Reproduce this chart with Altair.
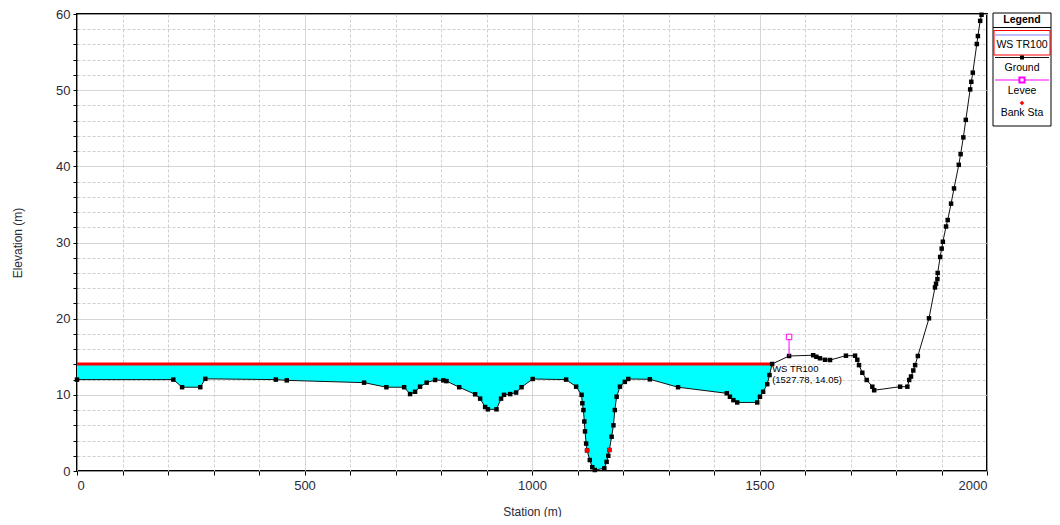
import altair as alt
import pandas as pd

# ---------------- data ----------------
station = [0, 211.7, 231, 271, 282, 437, 461, 631, 680, 719, 732, 743, 754, 768.5, 787, 805, 812,
           840, 875, 886, 897, 903, 922, 932, 938.5, 952, 965, 977, 1001.5, 1075, 1097, 1109,
           1110.6, 1113, 1115, 1116.5, 1119, 1121, 1127, 1132.5, 1138, 1159, 1164, 1167.7, 1170,
           1175, 1179, 1182, 1186, 1193.4, 1204, 1211.6, 1259, 1321, 1428, 1435, 1442.6, 1451,
           1495, 1501, 1508, 1517, 1522, 1527.78, 1565, 1618, 1625, 1633, 1644, 1655, 1690, 1710,
           1715, 1718.7, 1726, 1735.6, 1748, 1752, 1809, 1825, 1829, 1833, 1838, 1842, 1848,
           1872.5, 1885.7, 1888, 1891, 1891.6, 1897, 1900.4, 1903, 1910, 1913.6, 1921, 1927.5,
           1938, 1942, 1948, 1953.4, 1963, 1965.5, 1968.8, 1977.6, 1980, 1985, 1988]
elevation = [12.0, 12.0, 11.0, 11.0, 12.1, 12.0, 11.9, 11.6, 11.0, 11.0, 10.1, 10.4, 11.07, 11.6,
             11.95, 11.9, 11.8, 11.0, 10.07, 9.5, 8.4, 8.1, 8.1, 9.5, 10.0, 10.1, 10.3, 11.0,
             12.08, 12.0, 11.07, 10.0, 8.9, 8.0, 6.5, 5.2, 3.6, 2.7, 1.44, 0.5, 0.13, 0.35, 1.2,
             2.0, 2.76, 4.5, 6.0, 8.0, 9.75, 11.07, 11.7, 12.08, 12.04, 11.0, 10.2, 9.75, 9.3,
             9.0, 9.0, 9.75, 10.4, 11.4, 12.6, 14.05, 15.1, 15.2, 15.0, 14.8, 14.6, 14.57, 15.14,
             15.14, 14.6, 13.9, 12.9, 11.95, 11.07, 10.6, 11.07, 11.07, 11.95, 12.4, 13.2, 13.9,
             15.1, 20.05, 24.1, 24.6, 25.2, 26.0, 28.1, 29.2, 30.1, 32.1, 32.95, 35.1, 37.1, 40.2,
             41.6, 43.8, 46.1, 50.1, 51.1, 52.3, 56.06, 57.1, 59.1, 59.9]

ws_elev = 14.05
ws_end = 1527.78
ws_label = ["WS TR100", "(1527.78, 14.05)"]

bank_sta = [1121, 1170]
bank_elev = [2.7, 2.76]

levee_sta = [1565]
levee_ground = [15.1]
levee_top = [17.6]

legend_labels = ["WS TR100", "Ground", "Levee", "Bank Sta"]

FONT = "Liberation Sans"

ground = pd.DataFrame({"sta": station, "elev": elevation})
wet = ground[ground["sta"] <= ws_end].copy()
wet["ws"] = ws_elev
ws_df = pd.DataFrame({"sta": [0, ws_end], "elev": [ws_elev, ws_elev]})
bank_df = pd.DataFrame({"sta": bank_sta, "elev": bank_elev})
levee_df = pd.DataFrame({"sta": levee_sta, "elev": levee_ground, "top": levee_top})
levee_top_df = pd.DataFrame({"sta": levee_sta, "elev": levee_top})
lab_df = pd.DataFrame({"sta": [ws_end], "elev": [ws_elev]})
one = pd.DataFrame({"a": [0]})

xs = alt.Scale(domain=[0, 2000], nice=False, zero=False)
ys = alt.Scale(domain=[0, 60], nice=False, zero=False)

x_axis = alt.Axis(
    title="Station (m)", values=list(range(0, 2001, 100)), format="d",
    labelExpr="datum.value % 500 === 0 ? datum.label : ''", labelOverlap=False,
    gridDash={"condition": {"test": "datum.value % 500 === 0", "value": [1, 0]}, "value": [3, 2]},
    gridColor={"condition": {"test": "datum.value % 500 === 0", "value": "#c8c8c8"}, "value": "#cfcfcf"},
    tickSize=4, tickColor="black", labelPadding=4, titlePadding=14, domain=False,
)
y_axis = alt.Axis(
    title="Elevation (m)", values=list(range(0, 61, 2)), format="d",
    labelExpr="datum.value % 10 === 0 ? datum.label : ''", labelOverlap=False,
    gridDash={"condition": {"test": "datum.value % 10 === 0", "value": [1, 0]}, "value": [3, 2]},
    gridColor={"condition": {"test": "datum.value % 10 === 0", "value": "#c8c8c8"}, "value": "#cfcfcf"},
    tickSize=4, tickColor="black", labelPadding=3, titlePadding=31, domain=False,
)
X = alt.X("sta:Q", scale=xs, axis=x_axis)
Y = alt.Y("elev:Q", scale=ys, axis=y_axis)

area = alt.Chart(wet).mark_area(color="#00FFFF", opacity=1).encode(x=X, y=Y, y2="ws:Q")
ws_line = alt.Chart(ws_df).mark_line(color="#ff0000", strokeWidth=3).encode(x=X, y=Y)
g_line = alt.Chart(ground).mark_line(color="#111111", strokeWidth=1).encode(x=X, y=Y)
g_pts = alt.Chart(ground).mark_point(shape="square", filled=True, color="black", size=20, opacity=1).encode(x=X, y=Y)
bank = alt.Chart(bank_df).mark_point(shape="circle", filled=True, color="#ff0000", size=24, opacity=1).encode(x=X, y=Y)
levee_rule = alt.Chart(levee_df).mark_rule(color="#ff00ff", strokeWidth=1).encode(x=X, y=Y, y2="top:Q")
levee_pt = alt.Chart(levee_top_df).mark_point(shape="square", filled=True, fill="white", stroke="#ff00ff",
                                              size=30, strokeWidth=1, opacity=1).encode(x=X, y=Y)
lab1 = alt.Chart(lab_df).mark_text(align="left", baseline="middle", dx=0, dy=5, fontSize=9.5,
                                   font=FONT, color="black").encode(x=X, y=Y, text=alt.value(ws_label[0]))
lab2 = alt.Chart(lab_df).mark_text(align="left", baseline="middle", dx=0, dy=16, fontSize=9.5,
                                   font=FONT, color="black").encode(x=X, y=Y, text=alt.value(ws_label[1]))

# ---------------- custom legend box (outside the plot, right side) ----------------
L0, L1 = 916, 974
LC = (L0 + L1) / 2
base = alt.Chart(one)
leg = [
    base.mark_rect(fill="white", stroke="black", strokeWidth=1).encode(
        x=alt.value(L0), x2=alt.value(L1), y=alt.value(-1), y2=alt.value(112)),
    base.mark_text(fontWeight="bold", fontSize=10.5, font=FONT, color="black", baseline="middle").encode(
        x=alt.value(LC), y=alt.value(6), text=alt.value("Legend")),
    base.mark_rule(color="black", strokeWidth=1).encode(
        x=alt.value(L0), x2=alt.value(L1), y=alt.value(13.5)),
    base.mark_rect(fill="white", stroke="#ff0000", strokeWidth=1).encode(
        x=alt.value(L0 + 1), x2=alt.value(L1 - 1), y=alt.value(16.5), y2=alt.value(41)),
    base.mark_rule(color="#8080ff", strokeWidth=1).encode(
        x=alt.value(L0 + 2), x2=alt.value(L1 - 2), y=alt.value(21)),
    base.mark_text(fontSize=10.5, font=FONT, color="black", baseline="middle").encode(
        x=alt.value(LC), y=alt.value(31), text=alt.value(legend_labels[0])),
    base.mark_rule(color="#111111", strokeWidth=1).encode(
        x=alt.value(L0 + 2), x2=alt.value(L1 - 2), y=alt.value(43.5)),
    base.mark_point(shape="square", filled=True, color="black", size=16, opacity=1).encode(
        x=alt.value(LC), y=alt.value(43.5)),
    base.mark_text(fontSize=10.5, font=FONT, color="black", baseline="middle").encode(
        x=alt.value(LC), y=alt.value(54), text=alt.value(legend_labels[1])),
    base.mark_rule(color="#ff00ff", strokeWidth=1).encode(
        x=alt.value(L0 + 2), x2=alt.value(L1 - 2), y=alt.value(66)),
    base.mark_point(shape="square", filled=True, fill="white", stroke="#ff00ff", size=26, opacity=1).encode(
        x=alt.value(LC), y=alt.value(66)),
    base.mark_text(fontSize=10.5, font=FONT, color="black", baseline="middle").encode(
        x=alt.value(LC), y=alt.value(77), text=alt.value(legend_labels[2])),
    base.mark_point(shape="diamond", filled=True, color="#ff0000", size=22, opacity=1).encode(
        x=alt.value(LC), y=alt.value(89)),
    base.mark_text(fontSize=10.5, font=FONT, color="black", baseline="middle").encode(
        x=alt.value(LC), y=alt.value(99), text=alt.value(legend_labels[3])),
]

chart = alt.layer(area, ws_line, g_line, g_pts, bank, levee_rule, levee_pt, lab1, lab2, *leg).properties(
    width=910, height=457,
    autosize=alt.AutoSizeParams(type="none"),
    padding={"left": 69, "top": 6, "right": 65, "bottom": 46},
    background="white",
).configure_view(stroke="black", strokeWidth=2).configure_axis(
    labelFont=FONT, titleFont=FONT, labelFontSize=13, titleFontSize=12,
    titleFontWeight="normal", labelColor="#2a2a3a", titleColor="#2a2a3a",
)

chart.save("out.html", embed_options={"renderer": "svg", "actions": False})
